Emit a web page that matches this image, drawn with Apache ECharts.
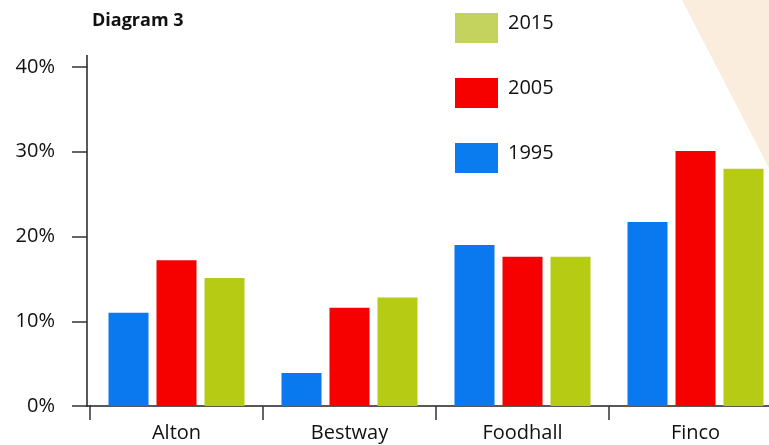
<!DOCTYPE html>
<html>
<head>
<meta charset="utf-8">
<script src="https://cdn.jsdelivr.net/npm/echarts@6/dist/echarts.min.js"></script>
<style>html,body{margin:0;padding:0;background:#fff;overflow:hidden;width:769px;height:445px}#c{width:800px;height:445px}</style>
</head>
<body>
<div id="c"></div>
<script>
const categories = ['Alton', 'Bestway', 'Foodhall', 'Finco'];
const seriesNames = ['1995', '2005', '2015'];
const values1995 = [11.0, 3.9, 19.0, 21.7];
const values2005 = [17.2, 11.6, 17.6, 30.1];
const values2015 = [15.1, 12.8, 17.6, 28.0];
const yTicks = [0, 10, 20, 30, 40];

const colors = { '1995': '#0a78ee', '2005': '#f70000', '2015': '#b6cc14' };
const legendColors = { '1995': '#0a7cf0', '2005': '#f70000', '2015': '#c3d35e' };
const font = '"Open Sans", sans-serif';

const chart = echarts.init(document.getElementById('c'), null, { renderer: 'canvas' });
const dataBySeries = { '1995': values1995, '2005': values2005, '2015': values2015 };

chart.setOption({
  animation: false,
  backgroundColor: '#fff',
  graphic: [{
    type: 'polygon',
    z: -10,
    shape: { points: [[682, 0], [800, 0], [800, 228]] },
    style: { fill: '#f8e7d2', opacity: 0.75 }
  }, {
    type: 'line',
    shape: { x1: 87, y1: 55, x2: 87, y2: 67 },
    style: { stroke: '#222', lineWidth: 1.5 }
  }, {
    type: 'line',
    shape: { x1: 86, y1: 406, x2: 91, y2: 406 },
    style: { stroke: '#222', lineWidth: 1.5 }
  }],
  title: {
    text: 'Diagram 3',
    left: 92, top: 12, padding: 0,
    textStyle: { fontFamily: font, fontSize: 18, fontWeight: 'bold', color: '#111' }
  },
  legend: {
    orient: 'vertical',
    left: 455, top: 13, padding: 0,
    itemWidth: 43, itemHeight: 30, itemGap: 35,
    icon: 'rect',
    formatter: name => '{t|' + name + '}\n{s|}',
    textStyle: {
      fontFamily: font, fontSize: 20, color: '#111',
      rich: {
        t: { fontFamily: font, fontSize: 20, color: '#111', lineHeight: 24, padding: [0, 0, 0, 5] },
        s: { fontSize: 1, lineHeight: 10 }
      }
    },
    data: ['2015', '2005', '1995'].map(n => ({ name: n, itemStyle: { color: legendColors[n] } }))
  },
  grid: { left: 90, top: 67, bottom: 39, width: 692, containLabel: false },
  xAxis: {
    type: 'category',
    data: categories,
    axisLine: { lineStyle: { color: '#222', width: 1.5 } },
    axisTick: { show: true, length: 14, lineStyle: { color: '#333', width: 1.5 } },
    axisLabel: { fontFamily: font, fontSize: 20, color: '#111', margin: 17 }
  },
  yAxis: {
    type: 'value',
    offset: 3,
    min: yTicks[0], max: yTicks[yTicks.length - 1], interval: 10,
    splitLine: { show: false },
    axisLine: { show: true, lineStyle: { color: '#222', width: 1.5 } },
    axisTick: { show: true, length: 15, lineStyle: { color: '#333', width: 1.5 } },
    axisLabel: { fontFamily: font, fontSize: 20, color: '#111', margin: 32, formatter: v => v + '%' }
  },
  series: seriesNames.map(n => ({
    name: n,
    type: 'bar',
    data: dataBySeries[n],
    barWidth: 40,
    barGap: '20%',
    itemStyle: { color: colors[n] }
  }))
});
</script>
</body>
</html>
